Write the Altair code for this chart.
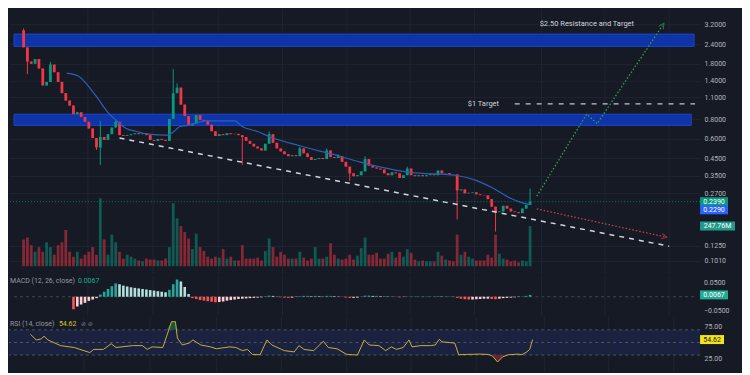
import altair as alt
import pandas as pd

BG = "#161a25"
GRID = "#1f2431"
TXT = "#b2b5be"
GREEN = "#089981"
RED = "#f23645"
FONT = "Roboto"

W = 692
AXW = 42
H_PRICE, H_MACD, H_RSI = 265, 39, 55
X_DOMAIN = [-2.5, 175]
PRICE_DOMAIN = [0.083, 4.0]
VOL_DOMAIN = [-47.5, 1588]
MACD_DOMAIN = [-0.065, 0.075]
RSI_DOMAIN = [3.5, 90.7]

# ---------------- data ----------------
first_open = 2.94
closes = [
    2.29, 1.86, 1.80, 1.93, 1.68, 1.31, 1.38, 1.78, 1.59, 1.38,
    1.17, 1.05, 0.976, 0.860, 0.885, 0.826, 0.770, 0.698, 0.607, 0.528,
    0.616, 0.590, 0.642, 0.708, 0.770, 0.633, 0.625, 0.633, 0.642, 0.651,
    0.642, 0.651, 0.633, 0.590, 0.582, 0.599, 0.590, 0.582, 0.803, 1.17,
    1.27, 0.990, 0.837, 0.728, 0.749, 0.849, 0.792, 0.781, 0.738, 0.670,
    0.625, 0.642, 0.633, 0.651, 0.642, 0.645, 0.633, 0.616, 0.582, 0.558,
    0.536, 0.521, 0.506, 0.558, 0.642, 0.566, 0.521, 0.499, 0.479, 0.465,
    0.472, 0.465, 0.521, 0.485, 0.459, 0.440, 0.446, 0.453, 0.446, 0.506,
    0.459, 0.453, 0.465, 0.428, 0.399, 0.362, 0.347, 0.352, 0.372, 0.446,
    0.405, 0.394, 0.388, 0.383, 0.362, 0.352, 0.367, 0.362, 0.338, 0.352,
    0.388, 0.352, 0.347, 0.352, 0.347, 0.352, 0.357, 0.352, 0.377, 0.362,
    0.363, 0.357, 0.356, 0.282, 0.286, 0.270, 0.272, 0.274, 0.266, 0.263,
    0.262, 0.248, 0.222, 0.205, 0.207, 0.225, 0.216, 0.207, 0.205, 0.202,
    0.216, 0.228, 0.239,
]
high_idx = [0, 7, 20, 24, 39, 40, 64, 72, 79, 82, 89, 100, 132]
high_val = [3.02, 1.85, 0.78, 0.80, 1.66, 1.35, 0.670, 0.536, 0.521, 0.479, 0.465, 0.399, 0.290]
low_idx = [1, 19, 20, 57, 85, 113, 123]
low_val = [1.55, 0.51, 0.41, 0.41, 0.324, 0.184, 0.154]

volumes = [  # millions
    165, 177, 130, 89, 118, 89, 148, 118, 71, 130,
    148, 224, 89, 59, 89, 47, 71, 89, 118, 71,
    419, 165, 71, 195, 148, 89, 47, 71, 59, 47,
    35, 30, 47, 41, 41, 35, 35, 47, 118, 389,
    295, 248, 212, 171, 106, 201, 118, 94, 59, 47,
    59, 53, 106, 47, 59, 35, 35, 130, 47, 47,
    47, 53, 35, 94, 171, 118, 59, 89, 71, 47,
    47, 47, 89, 53, 35, 47, 118, 47, 47, 59,
    142, 71, 47, 41, 47, 71, 41, 65, 112, 177,
    71, 71, 83, 47, 47, 77, 89, 53, 89, 59,
    106, 83, 41, 30, 35, 30, 30, 30, 89, 65,
    41, 35, 30, 195, 71, 89, 59, 47, 35, 35,
    35, 71, 53, 195, 77, 47, 41, 30, 35, 24,
    35, 30, 247.76,
]

macd_first = 13
macd_hist = [
    -0.045, -0.035, -0.028, -0.022, -0.015, -0.010, -0.005,
    0.008, 0.018, 0.028, 0.038, 0.048, 0.045, 0.040, 0.037, 0.034, 0.032,
    0.030, 0.028, 0.026, 0.024, 0.022, 0.020, 0.018, 0.016, 0.025, 0.045,
    0.062, 0.055, 0.035, 0.010, -0.005, -0.008, -0.012, -0.014, -0.016, -0.018,
    -0.020, -0.019, -0.017, -0.014, -0.012, -0.010, -0.008, -0.007, -0.006, -0.005,
    -0.004, -0.003, -0.002, 0.002, 0.004, 0.003, 0.001, -0.002, -0.003, -0.004,
    -0.003, -0.001, 0.002, 0.003, 0.003, 0.002, 0.003, 0.002, 0.001, 0.003,
    0.003, 0.002, 0.001, -0.001, -0.003, -0.004, -0.004, -0.003, 0.001, 0.004,
    0.004, 0.003, 0.003, 0.002, 0.002, 0.001, 0.001, -0.001, -0.002, -0.001,
    0.001, 0.001, 0.001, 0.001, 0.001, 0.001, 0.001, 0.001, 0.002, 0.001,
    0.001, 0.001, 0.0005, -0.004, -0.007, -0.009, -0.010, -0.010, -0.009, -0.008,
    -0.007, -0.007, -0.008, -0.009, -0.007, -0.005, -0.004, -0.003, -0.002, -0.001,
    0.001, 0.003, 0.0067,
]

ema_idx = [11.25, 14.25, 16.75, 19.25, 21.75, 24.25, 26.75, 29.25, 32.5, 37.5,
           39.25, 40.75, 42.5, 47.5, 55, 57, 60.75, 65, 71.75, 77.5,
           82.5, 87.5, 92.5, 100.75, 112.5, 118.25, 122.5, 126.75, 130, 132]
ema_val = [1.569, 1.505, 1.309, 1.091, 0.897, 0.781, 0.698, 0.670, 0.642, 0.633,
           0.670, 0.718, 0.728, 0.781, 0.781, 0.718, 0.670, 0.607, 0.544, 0.499,
           0.465, 0.428, 0.399, 0.367, 0.352, 0.324, 0.290, 0.252, 0.235, 0.229]

rsi_idx = [3, 4.5, 5.75, 6.5, 7.5, 10.75, 14.25, 18.25, 19.25, 21.75,
           23.75, 25, 29.25, 31.75, 33, 34.25, 37, 38, 39.25, 40.25,
           40.75, 42, 43.75, 44.75, 46.75, 49.25, 50.75, 54.25, 55.75, 57.5,
           58.75, 60, 62, 63.75, 65, 67.5, 68.25, 70.75, 72, 73.25,
           75.75, 78.25, 79.5, 81.75, 84.25, 85.75, 87, 88.75, 90, 92.5,
           94.25, 95.75, 97, 98.75, 100.25, 101, 103.25, 105.75, 107, 108,
           108.75, 112, 113, 115, 118.25, 120.75, 121.75, 123, 124.25, 125.75,
           128.25, 129.25, 130.5, 131.25, 132]
rsi_val = [63, 54, 55.5, 60, 54, 45, 42, 34, 39, 39,
           48, 42, 45, 45, 39, 43, 42, 60, 83, 83,
           57, 46, 49, 54, 46, 43, 40, 43, 42, 37,
           39, 31, 30.5, 54, 46, 39, 37, 35, 45, 39,
           37, 52, 42, 40, 31, 30.5, 30, 54, 46, 45,
           37, 43, 39, 42, 54, 43, 45, 45, 46, 55,
           51, 49, 30.5, 31, 31.5, 31, 28, 19, 27, 30.5,
           31.5, 30.5, 35, 39, 54.62]

zone_lo = [2.32, 0.73]
zone_hi = [2.78, 0.86]
zone_end = [174.75, 174]
time_grid = [16.75, 33.75, 50.75, 67.5, 84.25, 100.75, 117.5, 135, 151.5, 168.25]
price_ticks = [3.2, 2.4, 1.8, 1.4, 1.1, 0.8, 0.6, 0.45, 0.35, 0.27, 0.125, 0.101]
macd_ticks = [0.05, -0.05]
rsi_ticks = [25, 75]

trend_idx = [25, 168.25]
trend_val = [0.607, 0.1245]
bull_idx = [133.75, 146.75, 149.5, 166.5]
bull_val = [0.259, 0.861, 0.749, 3.15]
bear_idx = [133.75, 167]
bear_val = [0.215, 0.143]
target_idx = [128, 175]
target_val = [1.0, 1.0]
notes_idx = [134.5, 115.75]
notes_val = [3.2, 1.0]
notes_text = ["$2.50 Resistance and Target", "$1 Target"]

last_close = 0.239
last_ema = 0.229
ema_badge_pos = 0.212
last_volume = 247.76
last_macd = 0.0067
last_rsi = 54.62

# ---------------- tables ----------------
rows = []
for i, c in enumerate(closes):
    o = first_open if i == 0 else closes[i - 1]
    rows.append({"i": i, "open": o, "close": c, "high": max(o, c), "low": min(o, c),
                 "vol": volumes[i], "color": GREEN if c >= o else RED})
cdf = pd.DataFrame(rows)
for k, v in zip(high_idx, high_val):
    cdf.loc[k, "high"] = max(cdf.loc[k, "high"], v)
for k, v in zip(low_idx, low_val):
    cdf.loc[k, "low"] = min(cdf.loc[k, "low"], v)

xs = alt.Scale(domain=X_DOMAIN, nice=False, zero=False)
# MACD pane is drawn wider (it holds its own tick labels), its x range stays [0, W]
xs_m = alt.Scale(domain=X_DOMAIN, nice=False, zero=False, range=[0, W])
ps = alt.Scale(type="log", domain=PRICE_DOMAIN, nice=False)
vs = alt.Scale(domain=VOL_DOMAIN, nice=False, zero=False)
ms = alt.Scale(domain=MACD_DOMAIN, nice=False, zero=False)
rs = alt.Scale(domain=RSI_DOMAIN, nice=False, zero=False)


def X(f, scale=xs):
    return alt.X(f, type="quantitative", scale=scale, axis=None)


def Yq(f, scale, axis=None):
    # the first layer of a panel carries the axis, the rest leave it implicit
    if axis is None:
        return alt.Y(f, type="quantitative", scale=scale)
    return alt.Y(f, type="quantitative", scale=scale, axis=axis)


def badge(width):
    h = 4.5 / (width / 2)
    return f"M-1,-{h:.3f}L1,-{h:.3f}L1,{h:.3f}L-1,{h:.3f}Z"


def right_axis(values, fmt, grid=False):
    return alt.Axis(orient="right", values=values, format=fmt, grid=grid,
                    gridColor=GRID, title=None, labelOverlap=False, labelBound=False,
                    labelFlush=False)


tg = pd.DataFrame({"g": time_grid})


def tgrid(scale=xs):
    return alt.Chart(tg).mark_rule(color=GRID, strokeWidth=1).encode(x=X("g", scale))


# ---------------- price panel ----------------
vol = alt.Chart(cdf).mark_bar(size=2.8, opacity=0.5).encode(
    x=X("i"), y=alt.Y("vol:Q", scale=vs, axis=None), y2=alt.datum(0),
    color=alt.Color("color:N", scale=None))
vb = pd.DataFrame({"v": [last_volume], "t": [f"{last_volume:.2f}M"]})
vbadge = alt.Chart(vb).mark_point(shape=badge(35), size=35 * 35, filled=True, opacity=1,
                                  strokeWidth=0, color="#22998a").encode(
    x=alt.value(W + 17.5), y=Yq("v", vs))
vtext = alt.Chart(vb).mark_text(color="white", fontSize=7, font=FONT).encode(
    x=alt.value(W + 17.5), y=Yq("v", vs), text="t:N")
volume_group = alt.layer(tgrid(), vol, vbadge, vtext)

zdf = pd.DataFrame({"x0": [X_DOMAIN[0]] * 2, "x1": zone_end, "lo": zone_lo, "hi": zone_hi})
zones = alt.Chart(zdf).mark_rect(color="#0e34a8", stroke="#1b45c4", strokeWidth=1).encode(
    x=X("x0"), x2="x1",
    y=Yq("lo", ps, right_axis(price_ticks, ".4f", grid=True)), y2="hi")

wicks = alt.Chart(cdf).mark_rule(strokeWidth=1).encode(
    x=X("i"), y=Yq("low", ps), y2="high:Q", color=alt.Color("color:N", scale=None))
bodies = alt.Chart(cdf).mark_bar(size=2.8).encode(
    x=X("i"), y=Yq("open", ps), y2="close", color=alt.Color("color:N", scale=None))

ema = alt.Chart(pd.DataFrame({"i": ema_idx, "v": ema_val})).mark_line(
    color="#2c5fb8", strokeWidth=1.2, interpolate="monotone").encode(x=X("i"), y=Yq("v", ps))
trend = alt.Chart(pd.DataFrame({"i": trend_idx, "v": trend_val})).mark_line(
    color="#d1d4dc", strokeWidth=1.5, strokeDash=[5, 5]).encode(x=X("i"), y=Yq("v", ps))
target = alt.Chart(pd.DataFrame({"i": target_idx, "v": target_val})).mark_line(
    color="#c3c6ce", strokeWidth=1.3, strokeDash=[5, 6]).encode(x=X("i"), y=Yq("v", ps))
bull = alt.Chart(pd.DataFrame({"i": bull_idx, "v": bull_val})).mark_line(
    color="#3f9a52", strokeWidth=1.3, strokeDash=[1.5, 2]).encode(x=X("i"), y=Yq("v", ps))
bear = alt.Chart(pd.DataFrame({"i": bear_idx, "v": bear_val})).mark_line(
    color="#c8404f", strokeWidth=1.3, strokeDash=[1.5, 2]).encode(x=X("i"), y=Yq("v", ps))
caret = "M-1,1L0,-1L1,1"
bull_head = alt.Chart(pd.DataFrame({"i": bull_idx[-1:], "v": bull_val[-1:]})).mark_point(
    shape=caret, size=30, angle=33, filled=False, color="#3f9a52", strokeWidth=1).encode(
    x=X("i"), y=Yq("v", ps))
bear_head = alt.Chart(pd.DataFrame({"i": bear_idx[-1:], "v": bear_val[-1:]})).mark_point(
    shape=caret, size=30, angle=102, filled=False, color="#c8404f", strokeWidth=1).encode(
    x=X("i"), y=Yq("v", ps))
notes = alt.Chart(pd.DataFrame({"i": notes_idx, "v": notes_val, "t": notes_text})).mark_text(
    align="left", baseline="middle", color="#d1d4dc", fontSize=7.5, font=FONT).encode(
    x=X("i"), y=Yq("v", ps), text="t:N")
pline = alt.Chart(pd.DataFrame({"v": [last_close]})).mark_rule(
    color=GREEN, strokeDash=[1, 2], opacity=0.7).encode(y=Yq("v", ps))

pb = pd.DataFrame({"v": [last_close, ema_badge_pos],
                   "t": [f"{last_close:.4f}", f"{last_ema:.4f}"],
                   "c": [GREEN, "#2962ff"]})
pbadge = alt.Chart(pb).mark_point(shape=badge(28), size=28 * 28, filled=True, opacity=1,
                                  strokeWidth=0).encode(
    x=alt.value(W + 14), y=Yq("v", ps), color=alt.Color("c:N", scale=None))
ptext = alt.Chart(pb).mark_text(color="white", fontSize=7, font=FONT).encode(
    x=alt.value(W + 14), y=Yq("v", ps), text="t:N")

price_group = alt.layer(zones, wicks, bodies, ema, trend, target, bull, bear,
                        bull_head, bear_head, notes, pline, pbadge, ptext)
price_panel = alt.layer(volume_group, price_group).resolve_scale(y="independent").properties(
    width=W, height=H_PRICE)

# ---------------- MACD panel ----------------
mrows = []
prev = None
for k, h in enumerate(macd_hist):
    if h >= 0:
        c = "#26a69a" if (prev is None or h >= prev) else "#b2dfdb"
    else:
        c = "#ff5252" if (prev is None or h < prev) else "#ffcdd2"
    mrows.append({"i": macd_first + k, "h": h, "c": c})
    prev = h
mdf = pd.DataFrame(mrows)
mzero_df = pd.DataFrame({"x0": [X_DOMAIN[0]], "x1": [X_DOMAIN[1]], "z": [0]})
mzero = alt.Chart(mzero_df).mark_rule(color="#434651", strokeDash=[3, 3]).encode(
    x=X("x0", xs_m), x2="x1", y=alt.Y("z:Q", scale=ms, axis=None))
hist = alt.Chart(mdf).mark_bar(size=2.6).encode(
    x=X("i", xs_m), y=Yq("h", ms), y2=alt.datum(0), color=alt.Color("c:N", scale=None))
mb = pd.DataFrame({"v": [last_macd], "t": [f"{last_macd:.4f}"]})
mbadge = alt.Chart(mb).mark_point(shape=badge(28), size=28 * 28, filled=True, opacity=1,
                                  strokeWidth=0, color="#22ab94").encode(
    x=alt.value(W + 14), y=Yq("v", ms))
mbtext = alt.Chart(mb).mark_text(color="white", fontSize=7, font=FONT).encode(
    x=alt.value(W + 14), y=Yq("v", ms), text="t:N")
mtitle = alt.Chart(pd.DataFrame({"t": ["MACD (12, 26, close)"]})).mark_text(
    align="left", baseline="middle", color="#9598a1", fontSize=7, font=FONT).encode(
    x=alt.value(1), y=alt.value(5), text="t:N")
mval = alt.Chart(mb).mark_text(align="left", baseline="middle", color="#22ab94",
                               fontSize=7, font=FONT).encode(
    x=alt.value(69), y=alt.value(5), text="t:N")
mticks = pd.DataFrame({"v": macd_ticks,
                       "t": [f"{v:.4f}".replace("-", "\u2212") for v in macd_ticks]})
mticktext = alt.Chart(mticks).mark_text(align="left", baseline="middle", color=TXT,
                                        fontSize=7, font=FONT).encode(
    x=alt.value(W + 4), y=Yq("v", ms), text="t:N")
macd_panel = alt.layer(mzero, tgrid(xs_m), hist, mbadge, mbtext, mtitle, mval,
                       mticktext).properties(width=W + AXW, height=H_MACD)

# ---------------- RSI panel ----------------
rdf = pd.DataFrame({"i": rsi_idx, "v": rsi_val})
rdf["over"] = rdf["v"].clip(lower=70)
rdf["under"] = rdf["v"].clip(upper=30)
band = alt.Chart(pd.DataFrame({"x0": [X_DOMAIN[0]], "x1": [X_DOMAIN[1]], "lo": [30], "hi": [70]})).mark_rect(
    color="#1b2240").encode(x=X("x0"), x2="x1",
                            y=Yq("lo", rs, right_axis(rsi_ticks, ".2f")), y2="hi")
rlines = alt.Chart(pd.DataFrame({"v": [70, 50, 30]})).mark_rule(
    color="#4d5263", strokeDash=[3, 3]).encode(y=Yq("v", rs))
over = alt.Chart(rdf).mark_area(color="#1f6b48", opacity=0.7).encode(
    x=X("i"), y=Yq("over", rs), y2=alt.datum(70))
under = alt.Chart(rdf).mark_area(color="#7a2430", opacity=0.8).encode(
    x=X("i"), y=Yq("under", rs), y2=alt.datum(30))
rline = alt.Chart(rdf).mark_line(color="#c2b03a", strokeWidth=1).encode(
    x=X("i"), y=Yq("v", rs))
rb = pd.DataFrame({"v": [last_rsi], "t": [f"{last_rsi:.2f}"]})
rbadge = alt.Chart(rb).mark_point(shape=badge(24), size=24 * 24, filled=True, opacity=1,
                                  strokeWidth=0, color="#f2e21c").encode(
    x=alt.value(W + 12), y=Yq("v", rs))
rbtext = alt.Chart(rb).mark_text(color="#131722", fontSize=7, font=FONT).encode(
    x=alt.value(W + 12), y=Yq("v", rs), text="t:N")
rtitle = alt.Chart(pd.DataFrame({"t": ["RSI (14, close)"]})).mark_text(
    align="left", baseline="middle", color="#9598a1", fontSize=7, font=FONT).encode(
    x=alt.value(1), y=alt.value(7), text="t:N")
rval = alt.Chart(rb).mark_text(align="left", baseline="middle", color="#d8c62a",
                               fontSize=7, font=FONT).encode(
    x=alt.value(50), y=alt.value(7), text="t:N")
ricons = alt.Chart(pd.DataFrame({"t": ["⊘  ⊘"]})).mark_text(
    align="left", baseline="middle", color="#787b86", fontSize=6, font="DejaVu Sans").encode(
    x=alt.value(72), y=alt.value(7), text="t:N")
rsi_panel = alt.layer(band, tgrid(), rlines, over, under, rline, rbadge, rbtext,
                      rtitle, rval, ricons).properties(width=W, height=H_RSI)

chart = alt.vconcat(price_panel, macd_panel, rsi_panel, spacing=0).properties(
    background=BG, padding=0
).configure_view(strokeWidth=0).configure_axis(
    labelColor=TXT, labelFont=FONT, labelFontSize=7, domain=False, ticks=False,
    labelPadding=4, minExtent=AXW, maxExtent=AXW, zindex=0
)

chart.save("out.html", embed_options={"renderer": "svg", "actions": False})
